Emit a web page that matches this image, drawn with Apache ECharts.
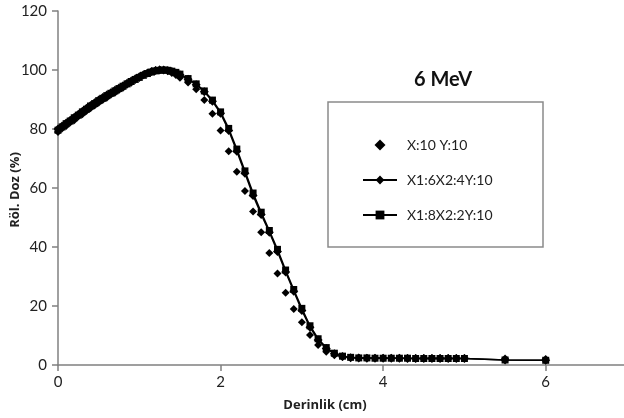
<!DOCTYPE html>
<html>
<head>
<meta charset="utf-8">
<script src="https://cdn.jsdelivr.net/npm/echarts@6/dist/echarts.min.js"></script>
<style>
  html, body { margin: 0; padding: 0; background: #fff; }
  #chart { width: 624px; height: 418px; }
</style>
</head>
<body>
<div id="chart"></div>
<script>
  // derinlik (cm) degerleri
  var xDepth = [0, 0.05, 0.1, 0.15, 0.2, 0.25, 0.3, 0.35, 0.4, 0.45, 0.5, 0.55, 0.6, 0.65, 0.7, 0.75,
    0.8, 0.85, 0.9, 0.95, 1.0, 1.05, 1.1, 1.15, 1.2, 1.25, 1.3, 1.35, 1.4, 1.45, 1.5,
    1.6, 1.7, 1.8, 1.9, 2.0, 2.1, 2.2, 2.3, 2.4, 2.5, 2.6, 2.7, 2.8, 2.9, 3.0, 3.1, 3.2, 3.3,
    3.4, 3.5, 3.6, 3.7, 3.8, 3.9, 4.0, 4.1, 4.2, 4.3, 4.4, 4.5, 4.6, 4.7, 4.8, 4.9, 5.0, 5.5, 6.0];

  // X:10 Y:10
  var yScatter = [79.0, 80.2, 81.0, 82.2, 83.0, 84.2, 85.0, 86.1, 87.0, 88.0, 88.9, 89.8, 90.6, 91.6, 92.3, 93.2,
    94.0, 95.0, 95.7, 96.6, 97.3, 98.2, 98.9, 99.5, 99.9, 100.2, 100.0, 99.6, 99.0, 98.3, 97.4,
    95.8, 93.5, 89.8, 85.2, 79.5, 72.5, 65.5, 59.0, 52.0, 45.0, 38.0, 31.0, 24.5, 19.0, 14.5, 10.2, 6.8, 4.5,
    3.3, 2.7, 2.5, 2.5, 2.4, 2.4, 2.4, 2.4, 2.4, 2.4, 2.4, 2.4, 2.4, 2.4, 2.4, 2.4, 2.4, 2.2, 2.0];

  // X1:6X2:4Y:10
  var yLine1 = [80.0, 81.0, 82.0, 83.0, 84.0, 85.0, 86.0, 87.0, 88.0, 88.9, 89.8, 90.7, 91.5, 92.3, 93.1, 93.9,
    94.7, 95.5, 96.3, 97.0, 97.7, 98.4, 99.0, 99.5, 99.8, 100.0, 100.0, 99.8, 99.5, 99.0, 98.4,
    96.9, 95.0, 92.6, 89.4, 85.3, 79.5, 72.5, 65.0, 57.5, 51.0, 45.0, 38.5, 31.5, 25.0, 18.5, 12.8, 8.5, 5.6,
    3.8, 2.9, 2.5, 2.4, 2.3, 2.3, 2.3, 2.3, 2.3, 2.2, 2.2, 2.2, 2.2, 2.2, 2.2, 2.2, 2.2, 1.7, 1.6];

  // X1:8X2:2Y:10
  var yLine2 = [79.6, 80.7, 81.8, 82.7, 83.8, 84.7, 85.8, 86.7, 87.8, 88.6, 89.6, 90.4, 91.3, 92.1, 92.9, 93.7,
    94.5, 95.3, 96.1, 96.8, 97.5, 98.2, 98.8, 99.3, 99.7, 99.9, 100.0, 99.9, 99.6, 99.2, 98.6,
    97.1, 95.3, 92.9, 89.8, 85.8, 80.2, 73.2, 65.8, 58.3, 51.8, 45.6, 39.2, 32.2, 25.6, 19.2, 13.3, 8.9, 5.9,
    4.0, 3.0, 2.6, 2.4, 2.4, 2.3, 2.3, 2.3, 2.3, 2.3, 2.2, 2.2, 2.2, 2.2, 2.2, 2.2, 2.2, 1.7, 1.6];

  var seriesNames = ["X:10 Y:10", "X1:6X2:4Y:10", "X1:8X2:2Y:10"];
  var yTicks = [0, 20, 40, 60, 80, 100, 120];
  var xTicks = [0, 2, 4, 6];

  function pairs(xs, ys) {
    return xs.map(function (x, i) { return [x, ys[i]]; });
  }

  var font = "Lato";
  var nameFont = "Open Sans";
  var myChart = echarts.init(document.getElementById("chart"));
  myChart.setOption({
    animation: false,
    textStyle: { fontFamily: font },
    grid: { left: 58, right: -3, top: 11, bottom: 53, containLabel: false, outerBoundsMode: "none" },
    xAxis: {
      type: "value",
      min: 0,
      max: 7,
      interval: 2,
      splitLine: { show: false },
      axisLine: { lineStyle: { color: "#808080", width: 1.5 } },
      axisTick: { show: true, length: 6, lineStyle: { color: "#808080", width: 1.5 } },
      axisLabel: {
        color: "#222", fontSize: 15, margin: 10, fontFamily: font,
        showMaxLabel: false,
        formatter: function (v) { return xTicks.indexOf(v) >= 0 ? String(v) : ""; }
      }
    },
    yAxis: {
      type: "value",
      min: 0,
      max: 120,
      interval: 20,
      splitLine: { show: false },
      axisLine: { show: true, lineStyle: { color: "#808080", width: 1.5 } },
      axisTick: { show: true, length: 6, lineStyle: { color: "#808080", width: 1.5 } },
      axisLabel: {
        color: "#222", fontSize: 15, margin: 11, fontFamily: font,
        formatter: function (v) { return yTicks.indexOf(v) >= 0 ? String(v) : ""; }
      }
    },
    legend: {
      orient: "vertical",
      left: 357,
      top: 133,
      itemWidth: 34,
      itemHeight: 11,
      itemGap: 21,
      data: [
        { name: seriesNames[0], icon: "path://M0,-1L1,0L0,1L-1,0Z" },
        seriesNames[1],
        seriesNames[2]
      ],
      textStyle: { color: "#222", fontSize: 14, fontFamily: font, padding: [0, 0, 0, 5] }
    },
    graphic: [
      {
        type: "rect",
        shape: { x: 328, y: 102, width: 215, height: 145 },
        style: { fill: "#fff", stroke: "#8a8a8a", lineWidth: 1.5 },
        z: 0
      },
      {
        type: "text",
        x: 443, y: 80,
        style: {
          text: "6 MeV", fill: "#111", font: "bold 20px " + font,
          textAlign: "center", textVerticalAlign: "middle"
        }
      },
      {
        type: "text",
        x: 325, y: 405,
        style: {
          text: "Derinlik (cm)", fill: "#222", font: "bold 13px " + nameFont,
          textAlign: "center", textVerticalAlign: "middle"
        }
      },
      {
        type: "text",
        x: 15, y: 190,
        rotation: Math.PI / 2,
        style: {
          text: "Röl. Doz (%)", fill: "#222", font: "bold 13px " + nameFont,
          textAlign: "center", textVerticalAlign: "middle"
        }
      }
    ],
    series: [
      {
        name: seriesNames[1],
        type: "line",
        data: pairs(xDepth, yLine1),
        symbol: "diamond",
        symbolSize: 9,
        showAllSymbol: true,
        itemStyle: { color: "#000" },
        lineStyle: { color: "#000", width: 1.5 },
        z: 3
      },
      {
        name: seriesNames[2],
        type: "line",
        data: pairs(xDepth, yLine2),
        symbol: "rect",
        symbolSize: 7,
        showAllSymbol: true,
        itemStyle: { color: "#000" },
        lineStyle: { color: "#000", width: 1.5 },
        z: 3
      },
      {
        name: seriesNames[0],
        type: "scatter",
        data: pairs(xDepth, yScatter),
        symbol: "diamond",
        symbolSize: 8,
        itemStyle: { color: "#000", opacity: 1 },
        z: 4
      }
    ]
  });
</script>
</body>
</html>
